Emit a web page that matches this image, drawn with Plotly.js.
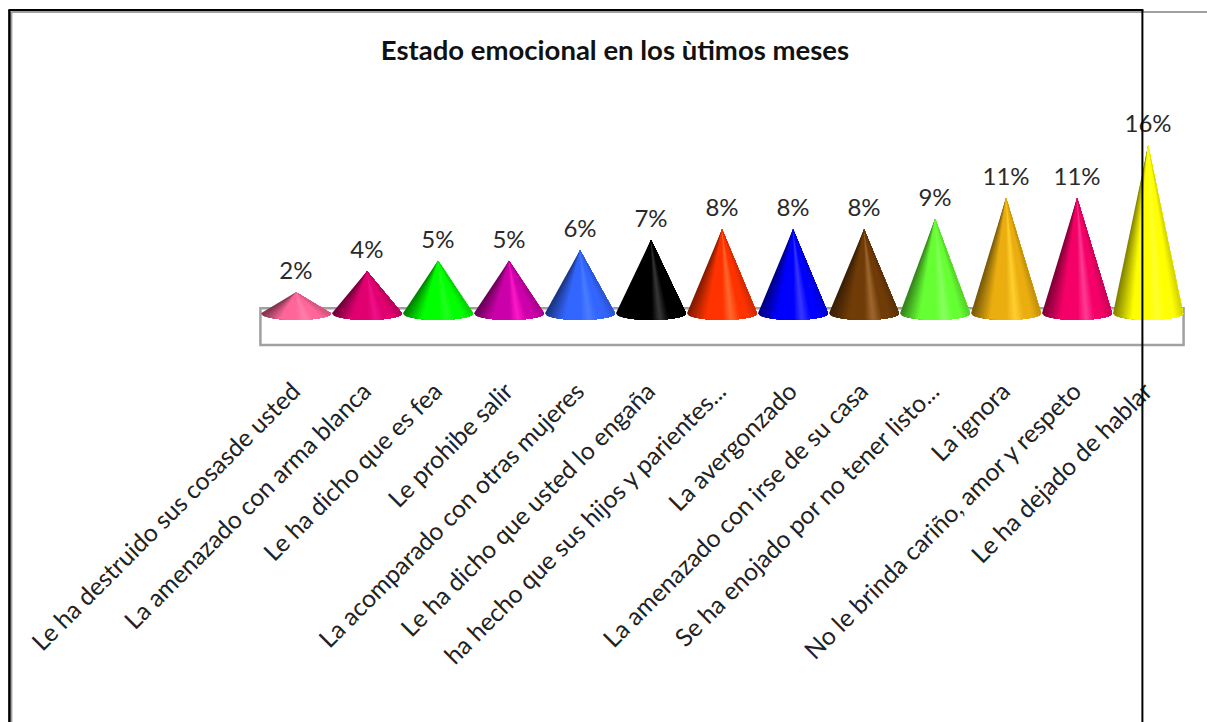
<!DOCTYPE html>
<html><head><meta charset="utf-8">
<script src="https://cdn.plot.ly/plotly-3.0.1.min.js"></script>
<style>html,body{margin:0;padding:0;background:#fff}#chart{width:1207px;height:722px}</style>
</head><body><div id="chart"></div>
<script>
const categories = ["Le ha destruido sus cosasde usted","La amenazado con arma blanca","Le ha dicho que es fea","Le prohibe salir","La acomparado con otras mujeres","Le ha dicho que usted lo engaña","ha hecho que sus hijos y parientes...","La avergonzado","La amenazado con irse de su casa","Se ha enojado por no tener listo...","La ignora","No le brinda cariño, amor y respeto","Le ha dejado de hablar"];
const values = [2,4,5,5,6,7,8,8,8,9,11,11,16];
const valueLabels = ["2%","4%","5%","5%","6%","7%","8%","8%","8%","9%","11%","11%","16%"];
const coneColors = ["#FF6699","#E0006F","#00FF00","#CC00AA","#3366FF","#000000","#FF3300","#0000FF","#703C08","#66FF33","#EBAE10","#F50068","#FFFF00"];
const coneHighlights = ["#FF7FAA","#F0108A","#20FF20","#FF18C8","#4A7CFF","#383838","#FF6A30","#3838FF","#A06830","#88FF60","#FFD030","#FF3C94","#FFFF30"];

function hex(c){return [1,3,5].map(k=>parseInt(c.substr(k,2),16));}
function mix(a,b,t){return a.map((v,k)=>Math.round(v+(b[k]-v)*t));}
function rgb(a){return "rgb("+a.join(",")+")";}
function shade(base,hi,t){
  const dark=mix(base,[0,0,0],0.5), right=mix(base,[0,0,0],0.18);
  if(t<-0.45) return mix(dark,base,(t+1)/0.55);
  if(t<0.02) return base;
  if(t<0.26) return mix(base,hi,(t-0.02)/0.24);
  if(t<0.52) return mix(hi,base,(t-0.26)/0.26);
  if(t<0.75) return base;
  return mix(base,right,(t-0.75)/0.25);
}
const R=0.493, H=0.62, STEPS=40, LIFT=0.65;
const traces=[];
values.forEach((v,i)=>{
  const base=hex(coneColors[i]), hi=hex(coneHighlights[i]);
  // painted left to right: each layer runs from its own angle to the right silhouette
  for(let s=0;s<STEPS;s++){
    const xs=[i], ys=[v];
    for(let k=s;k<=STEPS;k++){
      const c=-1+2*k/STEPS;
      xs.push(i+R*c); ys.push(-H*Math.sqrt(Math.max(0,1-c*c)));
    }
    xs.push(i); ys.push(v);
    const t=-1+2*(s+0.5)/STEPS;
    traces.push({type:"scatter",mode:"none",x:xs,y:ys,fill:"toself",fillcolor:rgb(shade(base,hi,t)),
      hoverinfo:"skip",showlegend:false,cliponaxis:false});
  }
});
traces.push({type:"scatter",mode:"text",x:categories.map((_,i)=>i),y:values.map(v=>v+LIFT),text:valueLabels,
  textposition:"top center",textfont:{family:"Lato",size:24,color:"#2a2a2a"},
  hoverinfo:"skip",showlegend:false,cliponaxis:false});

const L=258.6,T=40;
function px(x0,y0,x1,y1,color,width){
  return {type:"line",xref:"paper",yref:"paper",xsizemode:"pixel",ysizemode:"pixel",xanchor:0,yanchor:1,
    x0:x0-L,x1:x1-L,y0:T-y0,y1:T-y1,line:{color:color,width:width}};
}
const layout={
  width:1207,height:722,paper_bgcolor:"#fff",plot_bgcolor:"#fff",showlegend:false,
  margin:{l:L,r:21.5,t:T,b:375.4,pad:0},
  title:{text:"<b>Estado emocional en los ùtimos meses</b>",font:{family:"Lato",size:27.5,color:"#111"},
    xref:"container",x:0.5095,yref:"container",y:0.93,xanchor:"center",yanchor:"middle"},
  xaxis:{range:[-0.52,12.52],tickmode:"array",tickvals:categories.map((_,i)=>i),ticktext:categories,
    tickangle:-45,ticks:"",showgrid:false,zeroline:false,showline:false,ticklabelstandoff:24,ticklabelshift:-3,
    tickfont:{family:"Lato",size:24.7,color:"#222"},automargin:false},
  yaxis:{range:[-3.2,26],visible:false,showgrid:false,zeroline:false},
  shapes:[
    {type:"rect",xref:"x",yref:"y",x0:-0.5,x1:12.5,y0:-3,y1:0.48,layer:"below",line:{color:"#A0A0A0",width:2.5},fillcolor:"rgba(0,0,0,0)"},
    px(1142,12,1207,12,"#A0A0A0",2),
    px(11,12,11,722,"#A0A0A0",2),
    px(11,12,1142,12,"#A0A0A0",2),
    px(9,10,9,722,"#000",2.5),
    px(8,10,1143,10,"#000",2),
    px(1142,10,1142,722,"#000",2)
  ]
};
Plotly.newPlot("chart",traces,layout,{displayModeBar:false,staticPlot:true});
</script></body></html>
